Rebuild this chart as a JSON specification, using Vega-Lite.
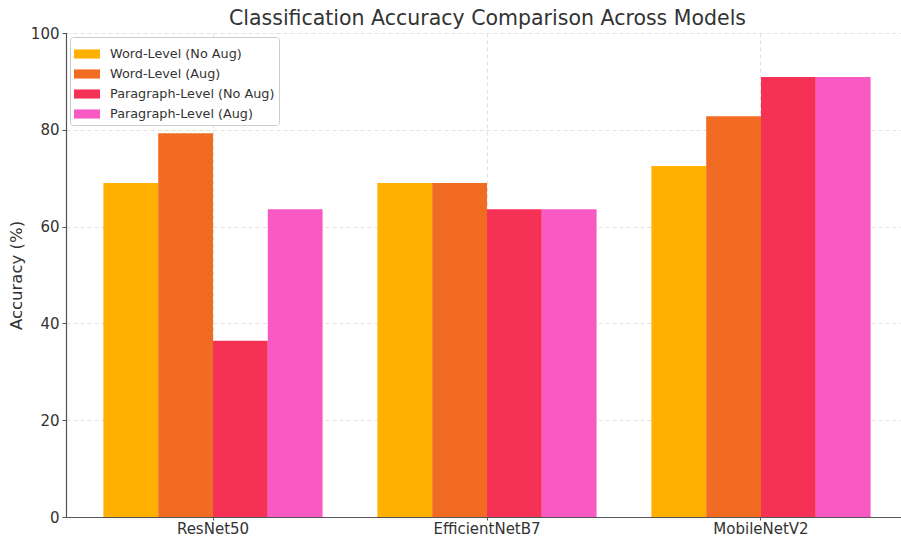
{
  "$schema": "https://vega.github.io/schema/vega-lite/v6.json",
  "autosize": {"type": "none"},
  "padding": {"left": 66, "top": 33, "right": 0, "bottom": 20},
  "width": 835,
  "height": 484,
  "background": "white",
  "title": {
    "text": "Classification Accuracy Comparison Across Models",
    "font": "DejaVu Sans",
    "fontSize": 20.5,
    "fontWeight": "normal",
    "color": "#333333",
    "anchor": "middle",
    "dx": 4,
    "offset": -3
  },
  "data": {
    "values": [
      {"model": "ResNet50", "level": "Word-Level (No Aug)", "accuracy": 69.0},
      {"model": "ResNet50", "level": "Word-Level (Aug)", "accuracy": 79.3},
      {"model": "ResNet50", "level": "Paragraph-Level (No Aug)", "accuracy": 36.4},
      {"model": "ResNet50", "level": "Paragraph-Level (Aug)", "accuracy": 63.6},
      {"model": "EfficientNetB7", "level": "Word-Level (No Aug)", "accuracy": 69.0},
      {"model": "EfficientNetB7", "level": "Word-Level (Aug)", "accuracy": 69.0},
      {"model": "EfficientNetB7", "level": "Paragraph-Level (No Aug)", "accuracy": 63.6},
      {"model": "EfficientNetB7", "level": "Paragraph-Level (Aug)", "accuracy": 63.6},
      {"model": "MobileNetV2", "level": "Word-Level (No Aug)", "accuracy": 72.5},
      {"model": "MobileNetV2", "level": "Word-Level (Aug)", "accuracy": 82.8},
      {"model": "MobileNetV2", "level": "Paragraph-Level (No Aug)", "accuracy": 90.9},
      {"model": "MobileNetV2", "level": "Paragraph-Level (Aug)", "accuracy": 90.9}
    ]
  },
  "mark": {"type": "bar"},
  "encoding": {
    "x": {
      "field": "model",
      "type": "nominal",
      "sort": ["ResNet50", "EfficientNetB7", "MobileNetV2"],
      "scale": {"range": [0, 842], "paddingInner": 0, "paddingOuter": 0.0365},
      "axis": {
        "title": null,
        "labelAngle": 0,
        "labelFont": "DejaVu Sans",
        "labelFontSize": 15,
        "labelColor": "#333333",
        "labelPadding": 1,
        "domainColor": "#555555",
        "domainWidth": 1.2,
        "tickColor": "#555555",
        "tickSize": 3,
        "grid": true,
        "bandPosition": 0.5,
        "gridColor": "#d9d9d9",
        "gridDash": [4, 3],
        "gridWidth": 0.8
      }
    },
    "xOffset": {
      "field": "level",
      "type": "nominal",
      "sort": ["Word-Level (No Aug)", "Word-Level (Aug)", "Paragraph-Level (No Aug)", "Paragraph-Level (Aug)"],
      "scale": {"paddingInner": 0, "paddingOuter": 0.5}
    },
    "y": {
      "field": "accuracy",
      "type": "quantitative",
      "scale": {"domain": [0, 100], "nice": false},
      "axis": {
        "title": "Accuracy (%)",
        "titleFont": "DejaVu Sans",
        "titleFontSize": 16.5,
        "titleFontWeight": "normal",
        "titleColor": "#333333",
        "titlePadding": 6,
        "values": [0, 20, 40, 60, 80, 100],
        "labelFont": "DejaVu Sans",
        "labelFontSize": 15,
        "labelColor": "#333333",
        "labelPadding": 3,
        "domainColor": "#555555",
        "domainWidth": 1.2,
        "tickColor": "#555555",
        "tickSize": 4,
        "grid": true,
        "gridColor": "#d9d9d9",
        "gridDash": [4, 3],
        "gridWidth": 0.8
      }
    },
    "color": {
      "field": "level",
      "type": "nominal",
      "scale": {
        "domain": ["Word-Level (No Aug)", "Word-Level (Aug)", "Paragraph-Level (No Aug)", "Paragraph-Level (Aug)"],
        "range": ["#FFB000", "#F26B22", "#F53256", "#F859C3"]
      },
      "legend": {
        "title": null,
        "orient": "top-left",
        "offset": 4,
        "padding": 4,
        "fillColor": "rgba(255,255,255,0.85)",
        "strokeColor": "#cccccc",
        "cornerRadius": 3,
        "labelFont": "DejaVu Sans",
        "labelFontSize": 12.8,
        "labelColor": "#333333",
        "labelOffset": 10,
        "labelLimit": 400,
        "symbolType": "M-1,-0.35H1V0.35H-1Z",
        "symbolSize": 676,
        "symbolStrokeWidth": 0,
        "symbolOpacity": 1,
        "rowPadding": -3
      }
    }
  },
  "config": {
    "view": {"stroke": null},
    "axis": {"domainCap": "square"}
  }
}
